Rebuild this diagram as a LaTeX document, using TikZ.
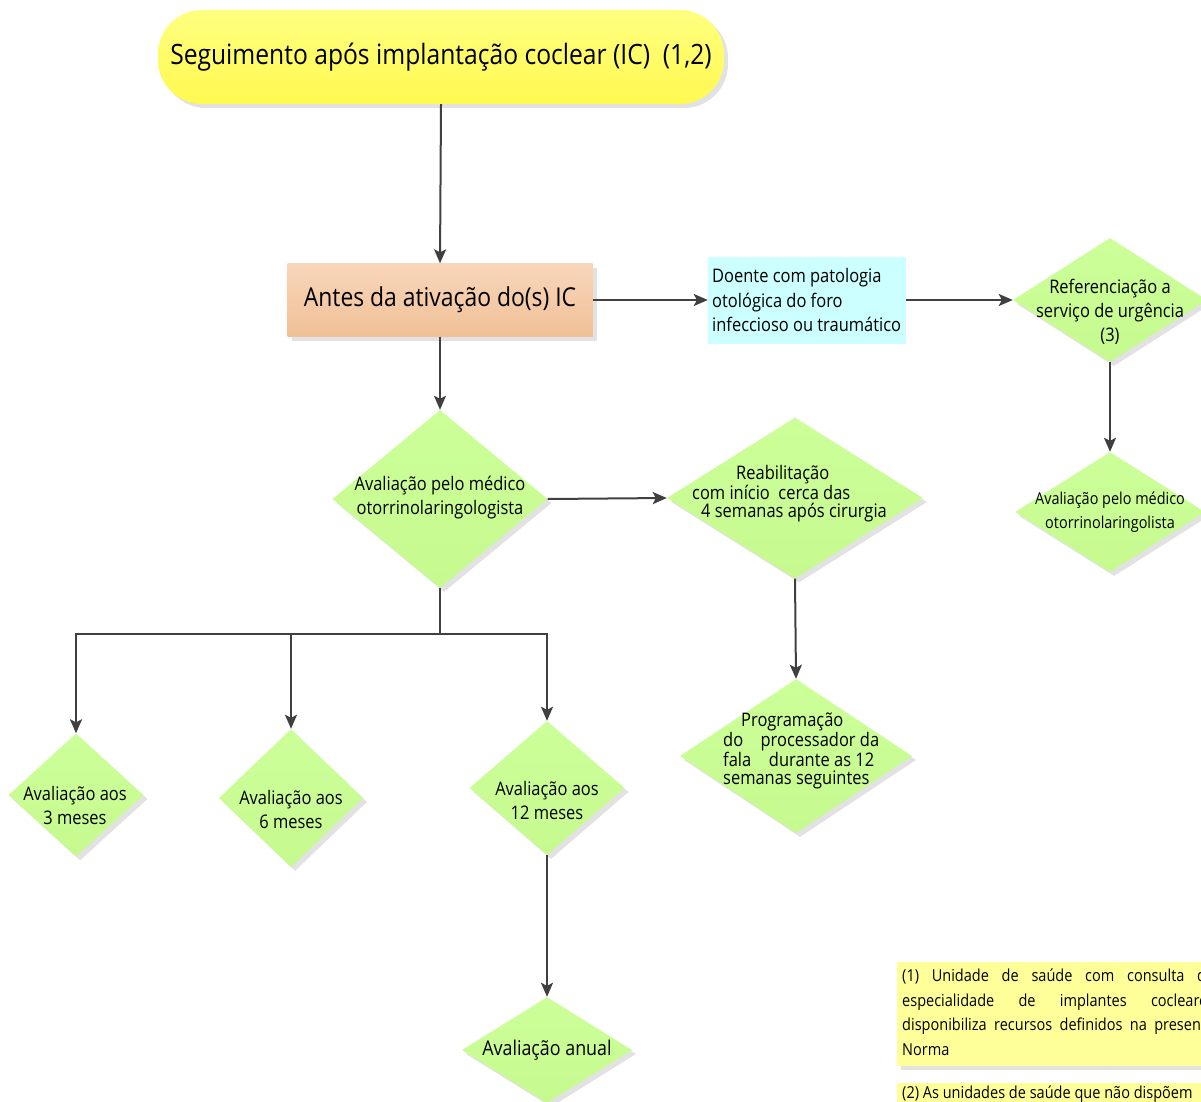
\documentclass[tikz,border=0pt]{standalone}
\usepackage{fontspec}
\setmainfont{Open Sans}[FakeStretch=0.88]
\usetikzlibrary{shapes.geometric,arrows.meta,shadows}
\definecolor{grn}{HTML}{CCFF99}
\definecolor{grnb}{HTML}{C6FA8F}
\definecolor{ttltop}{HTML}{FFFF80}
\definecolor{ttlbot}{HTML}{FFF950}
\definecolor{peachtop}{HTML}{F8D6BA}
\definecolor{peachbot}{HTML}{F0C097}
\definecolor{cyn}{HTML}{CCFFFF}
\definecolor{notec}{HTML}{FFFF99}
\definecolor{arrc}{HTML}{404040}
\definecolor{shdc}{HTML}{E2E2E2}
\begin{document}
\begin{tikzpicture}[x=1pt,y=-1pt,
  shd/.style={drop shadow={shadow xshift=4pt,shadow yshift=-4pt,fill=shdc,opacity=1}},
  dia/.style={diamond,draw=none,top color=grn,bottom color=grnb,inner sep=0pt,shd},
  arrow/.style={draw=arrc,line width=2pt,-{Stealth[length=14pt,width=12pt,inset=3pt]}},
  link/.style={draw=arrc,line width=2pt},
  txt/.style={align=center,inner sep=0pt,text=black},
  f18/.style={font=\fontsize{18.7}{24}\selectfont},
]
\path[use as bounding box,clip] (0,0) rectangle (1201,1102);

% title
\node[rectangle,rounded corners=44pt,minimum width=566pt,minimum height=94pt,top color=ttltop,bottom color=ttlbot,shd,inner sep=0pt,
  font=\fontsize{28}{34}\selectfont] (title) at (441,57) {\raisebox{-2pt}{Seguimento após implantação coclear (IC)\ \ (1,2)}};

% antes
\node[rectangle,minimum width=305pt,minimum height=73pt,top color=peachtop,bottom color=peachbot,shd,inner sep=0pt,
  font=\fontsize{26}{30}\selectfont] (antes) at (440,300) {Antes da ativação do(s) IC};

% cyan box
\node[rectangle,minimum width=198pt,minimum height=87pt,fill=cyn,inner sep=0pt] (doente) at (807,300) {};
\node[txt,align=left,anchor=west,font=\fontsize{18.7}{24.5}\selectfont] (doentet) at (712,300) {Doente com patologia\\otológica do foro\\infeccioso ou traumático};

% diamonds
\node[dia,minimum width=194pt,minimum height=124pt] (ref) at (1110,300) {};
\node[txt,f18] (reft) at (1110,312) {Referenciação a\\serviço de urgência\\(3)};

\node[dia,minimum width=190pt,minimum height=120pt] (aval2) at (1110,512) {};
\node[txt,font=\fontsize{16.4}{24}\selectfont] (aval2t) at (1110,512) {Avaliação pelo médico\\otorrinolaringolista};

\node[dia,minimum width=215pt,minimum height=178pt] (m1) at (440,499) {};
\node[txt,f18] (m1t) at (440,498) {Avaliação pelo médico\\otorrinolaringologista};

\node[dia,minimum width=256pt,minimum height=161pt] (reab) at (795,498) {};
\node[txt,align=left,anchor=west,font=\fontsize{18.7}{18}\selectfont] (reabt) at (692,494) {\hspace*{44pt}Reabilitação\\com início\ \ cerca das\\\hspace*{9pt}4 semanas após cirurgia};

\node[dia,minimum width=232pt,minimum height=154pt] (prog) at (796,756) {};
\node[txt,align=left,anchor=west,font=\fontsize{18.7}{18.3}\selectfont] (progt) at (723,751) {\hspace*{18pt}Programação\\\makebox[156pt][s]{do\hfill processador da}\\\makebox[151pt][s]{fala\hfill durante as 12}\\semanas seguintes};

\node[dia,minimum width=135pt,minimum height=123pt] (d3) at (76,795) {};
\node[txt,font=\fontsize{18.7}{24}\selectfont] (d3t) at (75,805) {Avaliação aos\\3 meses};

\node[dia,minimum width=144pt,minimum height=138pt] (d6) at (291,798) {};
\node[txt,font=\fontsize{18.7}{24}\selectfont] (d6t) at (291,809) {Avaliação aos\\6 meses};

\node[dia,minimum width=155pt,minimum height=134pt] (d12) at (547,788) {};
\node[txt,font=\fontsize{18.7}{24}\selectfont] (d12t) at (547,800) {Avaliação aos\\12 meses};

\node[dia,minimum width=170pt,minimum height=106pt] (anual) at (547,1050) {};
\node[txt,font=\fontsize{20.3}{24}\selectfont] (anualt) at (547,1050) {Avaliação anual};

% notes
\node[rectangle,fill=notec,shd,minimum width=320pt,minimum height=104pt,inner sep=0pt] (n1) at (1057,1014) {};
\node[txt,anchor=north west,text width=312pt,align=justify,font=\fontsize{16.5}{24.5}\selectfont] (n1t) at (902,969)
  {(1) Unidade de saúde com consulta de\linebreak especialidade de implantes cocleares\linebreak disponibiliza recursos definidos na presente\linebreak Norma};
\node[rectangle,fill=notec,shd,minimum width=320pt,minimum height=80pt,inner sep=0pt] (n2) at (1057,1123) {};
\node[txt,anchor=north west,font=\fontsize{16.5}{24}\selectfont] (n2t) at (902,1086) {(2) As unidades de saúde que não dispõem};

% connectors
\draw[arrow] (title.south) -- (antes.north);
\draw[arrow] (antes.east) -- (doente.west);
\draw[arrow] (doente.east) -- (ref.west);
\draw[arrow] (ref.south) -- (aval2.north);
\draw[arrow] (antes.south) -- (m1.north);
\draw[arrow] (m1.east) -- (reab.west);
\draw[arrow] (reab.south) -- (prog.north);
\coordinate (j) at (440,634);
\draw[link] (m1.south) -- (j);
\draw[arrow] (j) -| (d3.north);
\draw[arrow] (j) -| (d6.north);
\draw[arrow] (j) -| (d12.north);
\draw[arrow] (d12.south) -- (anual.north);
\end{tikzpicture}
\end{document}
